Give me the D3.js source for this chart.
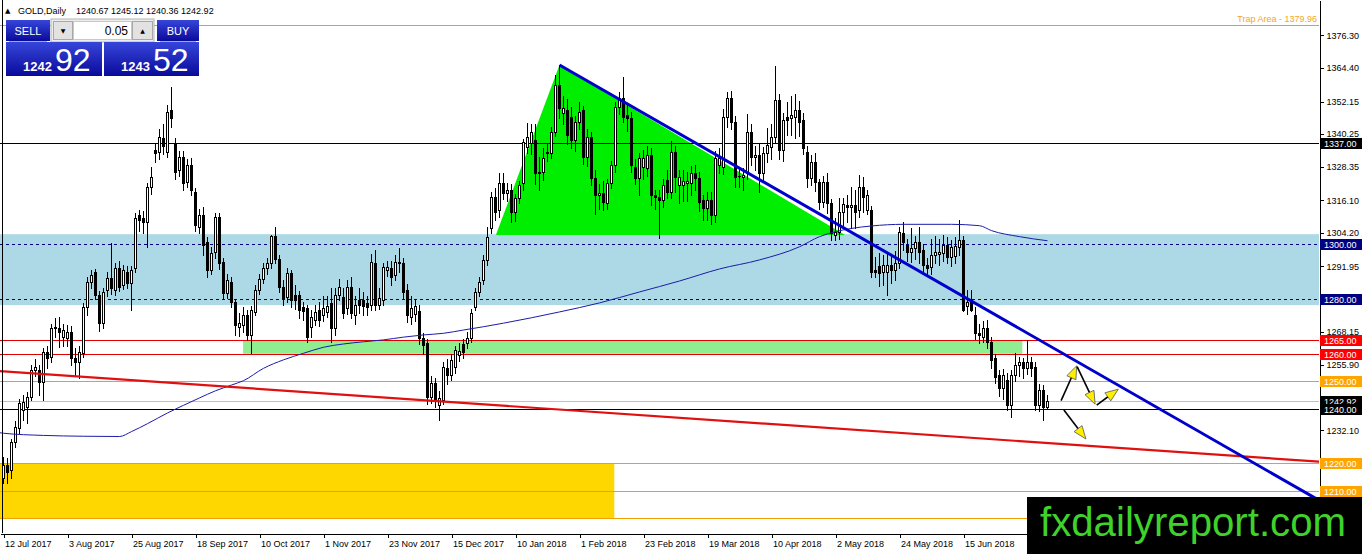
<!DOCTYPE html>
<html>
<head>
<meta charset="utf-8">
<script src="https://cdn.jsdelivr.net/npm/d3@7"></script>
<style>
  body { margin: 0; background: #fff; }
  svg { display: block; font-family: "Liberation Sans", Arial, sans-serif; }
</style>
</head>
<body>
<svg id="chart" width="1362" height="554"></svg>
<script>
// ---- data (GOLD, Daily) ----
const labelBars = [0, 16, 32, 48, 64, 80, 96, 112, 128, 144, 160, 176, 192, 208, 224, 240];
const dateLabels = ["12 Jul 2017", "3 Aug 2017", "25 Aug 2017", "18 Sep 2017", "10 Oct 2017", "1 Nov 2017",
  "23 Nov 2017", "15 Dec 2017", "10 Jan 2018", "1 Feb 2018", "23 Feb 2018", "19 Mar 2018",
  "10 Apr 2018", "2 May 2018", "24 May 2018", "15 Jun 2018"];

const opens = [
  1214.8,1219.4,1217.6,1227.8,1233.0,1239.5,1240.6,1244.2,1254.1,1254.1,1249.7,1260.7,1258.9,1269.8,1269.5,1266.0,
  1265.8,1268.0,1258.5,1257.0,1260.3,1277.1,1286.3,1289.9,1281.5,1271.3,1283.3,1287.7,1283.3,1291.4,1285.2,1289.9,
  1285.9,1291.4,1310.7,1309.6,1308.2,1320.9,1334.4,1333.7,1339.0,1333.7,1349.1,1337.0,1327.1,1331.9,1322.8,1329.0,
  1319.1,1306.3,1310.7,1300.8,1290.6,1297.2,1310.0,1293.5,1282.2,1286.3,1278.9,1269.8,1270.5,1274.2,1266.9,1275.3,
  1283.3,1287.3,1291.4,1293.2,1303.0,1294.6,1284.4,1280.8,1289.5,1281.5,1281.5,1277.1,1276.8,1269.8,1272.4,1276.1,
  1274.2,1275.3,1278.6,1269.5,1281.5,1280.8,1276.8,1284.4,1274.2,1279.7,1279.7,1278.6,1277.9,1293.2,1277.9,1279.7,
  1290.6,1291.4,1288.8,1293.5,1293.2,1283.3,1273.5,1274.5,1275.7,1265.8,1264.0,1244.2,1249.4,1241.3,1243.2,1254.8,
  1252.3,1255.2,1259.6,1263.5,1264.0,1265.8,1277.1,1282.6,1287.0,1294.3,1306.0,1317.3,1312.5,1322.4,1318.7,1319.8,
  1311.8,1316.9,1322.4,1335.5,1337.0,1338.1,1326.4,1326.4,1333.7,1333.4,1341.0,1358.2,1348.0,1349.1,1346.5,1338.1,
  1344.7,1349.1,1331.9,1339.2,1324.2,1318.0,1318.7,1315.1,1322.4,1329.0,1350.1,1353.4,1347.2,1346.1,1328.2,1324.2,
  1328.2,1327.8,1332.6,1318.0,1317.3,1316.2,1323.5,1319.1,1333.7,1321.7,1321.7,1322.4,1322.4,1326.1,1324.2,1316.2,
  1313.3,1316.2,1310.7,1329.0,1328.2,1346.5,1353.4,1344.7,1325.0,1324.6,1326.1,1341.0,1331.9,1332.6,1326.1,1333.4,
  1335.5,1339.2,1352.7,1334.4,1346.5,1346.1,1346.5,1349.1,1345.4,1333.7,1324.2,1330.1,1322.8,1315.5,1322.8,1315.1,
  1303.4,1304.5,1311.8,1314.4,1313.6,1314.4,1312.5,1320.9,1312.5,1312.5,1290.5,1292.2,1289.9,1289.9,1292.4,1290.6,
  1293.2,1304.1,1299.8,1297.2,1298.7,1300.8,1297.9,1292.4,1291.7,1296.1,1296.5,1296.8,1299.8,1295.4,1295.8,1299.0,
  1301.6,1277.5,1279.7,1274.2,1267.6,1266.2,1269.5,1264.3,1258.5,1252.3,1247.5,1250.5,1241.3,1252.3,1255.9,1257.0,
  1254.8,1257.0,1255.2,1241.3,1246.8,1240.67
];
const highs = [
  1222.5,1222.0,1229.0,1235.5,1243.5,1245.0,1246.0,1256.0,1258.0,1256.0,1262.0,1263.0,1271.0,1273.0,1273.5,1271.0,
  1270.5,1270.0,1262.0,1263.0,1278.5,1288.0,1290.5,1291.0,1283.0,1284.0,1290.0,1300.5,1293.0,1294.0,1292.5,1292.0,
  1292.0,1311.5,1312.5,1312.0,1322.5,1328.2,1336.5,1342.0,1344.0,1351.0,1357.5,1339.0,1334.0,1334.0,1331.0,1331.5,
  1320.5,1313.0,1313.5,1302.5,1299.0,1311.5,1311.5,1295.0,1289.0,1288.0,1280.0,1275.0,1277.0,1276.0,1277.5,1285.0,
  1289.0,1293.0,1295.0,1303.5,1306.5,1296.0,1287.0,1291.5,1290.5,1285.0,1283.0,1279.0,1278.0,1276.0,1278.0,1279.0,
  1281.0,1281.0,1284.0,1284.0,1287.5,1284.0,1287.0,1288.0,1281.0,1284.0,1282.5,1281.0,1296.5,1298.0,1284.0,1293.0,
  1294.0,1294.0,1296.0,1298.7,1295.0,1285.5,1281.0,1280.0,1278.0,1267.5,1265.5,1252.0,1251.0,1246.5,1257.0,1258.0,
  1260.0,1263.0,1264.0,1265.5,1268.0,1276.5,1284.0,1288.0,1296.0,1306.2,1319.0,1320.5,1326.0,1326.0,1322.5,1322.0,
  1318.5,1323.0,1338.5,1344.3,1344.0,1344.0,1332.0,1335.0,1337.0,1343.0,1362.0,1365.5,1354.0,1353.0,1350.0,1347.0,
  1352.0,1350.5,1342.0,1341.0,1327.0,1322.0,1323.0,1324.0,1330.5,1352.0,1355.5,1361.0,1351.0,1348.5,1331.0,1333.5,
  1334.5,1336.0,1335.0,1320.0,1320.0,1324.0,1327.0,1337.7,1336.0,1327.0,1327.0,1326.5,1328.5,1329.0,1326.5,1318.0,
  1319.0,1319.0,1334.0,1335.0,1349.5,1355.7,1356.0,1347.0,1327.5,1328.0,1347.5,1344.0,1336.0,1337.0,1335.5,1342.5,
  1344.0,1365.0,1355.0,1348.0,1352.0,1354.0,1355.0,1352.5,1348.0,1336.0,1332.5,1333.5,1324.0,1325.0,1326.0,1316.5,
  1309.5,1317.0,1317.0,1318.0,1320.9,1320.0,1325.3,1324.5,1320.0,1314.0,1295.4,1297.0,1296.0,1297.0,1296.5,1297.5,
  1306.5,1308.0,1302.0,1306.0,1303.0,1306.4,1300.0,1295.0,1302.0,1303.0,1302.0,1303.5,1302.5,1301.5,1302.5,1309.0,
  1303.0,1283.3,1283.3,1277.0,1271.0,1272.0,1272.5,1266.0,1260.0,1254.0,1254.5,1253.0,1254.0,1260.3,1259.0,1258.5,
  1265.1,1259.0,1257.0,1249.0,1248.5,1245.12
];
const lows = [
  1213.0,1213.0,1214.7,1226.0,1231.0,1236.0,1234.8,1243.0,1252.0,1245.0,1243.2,1255.0,1257.0,1266.0,1262.5,1263.0,
  1263.0,1256.0,1252.0,1251.2,1259.0,1274.0,1284.0,1280.0,1268.5,1269.5,1281.0,1282.0,1281.5,1283.0,1283.5,1284.0,
  1276.1,1290.0,1305.0,1304.0,1299.0,1318.5,1330.0,1331.0,1333.0,1332.0,1343.0,1324.0,1325.0,1320.0,1321.0,1318.0,
  1305.0,1304.0,1296.0,1288.0,1289.0,1295.0,1291.0,1280.0,1280.5,1277.0,1267.0,1266.5,1268.0,1265.0,1260.3,1274.0,
  1282.0,1286.0,1289.0,1291.5,1293.0,1282.5,1278.0,1279.0,1277.0,1276.5,1273.0,1272.5,1264.5,1266.0,1270.5,1270.0,
  1272.0,1273.5,1264.5,1267.0,1279.5,1273.0,1274.5,1273.0,1271.0,1275.0,1274.0,1274.0,1276.0,1276.0,1276.5,1278.0,
  1288.5,1285.0,1287.0,1290.0,1280.0,1271.5,1271.0,1272.0,1263.5,1260.0,1241.5,1242.0,1240.5,1235.8,1241.5,1249.0,
  1250.5,1253.0,1257.5,1258.5,1262.0,1264.5,1276.0,1281.0,1285.5,1292.5,1304.0,1309.0,1310.0,1316.5,1316.0,1308.0,
  1308.5,1315.0,1320.0,1333.5,1333.0,1322.0,1320.0,1323.5,1330.5,1331.5,1339.5,1346.0,1344.0,1336.5,1335.0,1334.0,
  1342.0,1329.5,1328.5,1321.5,1311.0,1313.0,1312.5,1313.0,1320.5,1326.5,1347.5,1344.5,1341.5,1326.5,1322.0,1318.0,
  1324.0,1325.0,1314.5,1313.0,1302.3,1313.5,1317.0,1317.0,1319.0,1315.0,1316.0,1316.0,1318.0,1320.0,1312.0,1309.0,
  1309.0,1307.5,1308.0,1326.0,1325.5,1343.0,1342.0,1321.0,1320.9,1320.0,1324.0,1329.0,1327.0,1319.0,1323.0,1330.0,
  1331.0,1337.5,1331.0,1330.5,1340.0,1340.0,1339.0,1339.5,1333.0,1321.0,1321.5,1319.5,1313.0,1313.5,1311.5,1301.7,
  1301.5,1302.0,1307.0,1308.0,1306.0,1306.0,1310.0,1311.9,1311.0,1288.0,1288.1,1284.7,1285.0,1281.5,1286.0,1287.0,
  1291.5,1298.0,1294.0,1293.5,1294.5,1293.0,1289.5,1288.5,1289.0,1293.0,1292.5,1294.0,1293.0,1292.0,1293.0,1296.0,
  1275.5,1274.5,1275.5,1265.5,1264.0,1264.5,1262.0,1254.8,1249.5,1244.5,1243.5,1239.5,1236.9,1250.0,1252.0,1251.0,
  1252.5,1252.0,1239.5,1239.0,1235.8,1240.36
];
const closes = [
  1219.4,1216.9,1227.8,1233.3,1242.1,1242.5,1244.2,1254.1,1255.2,1249.7,1260.7,1258.5,1269.5,1269.5,1268.0,1268.7,
  1268.0,1258.5,1257.0,1260.7,1277.1,1286.3,1288.8,1281.5,1271.3,1282.6,1287.7,1284.0,1291.4,1284.4,1290.6,1285.9,
  1290.6,1309.6,1308.9,1308.2,1320.9,1324.6,1333.4,1339.2,1336.0,1348.3,1346.1,1326.4,1331.9,1322.4,1329.0,1319.8,
  1307.1,1310.7,1299.8,1290.6,1296.8,1310.0,1293.2,1282.2,1287.0,1278.9,1270.5,1271.3,1274.2,1266.9,1276.1,1283.3,
  1287.3,1291.4,1293.2,1303.0,1294.6,1284.4,1280.4,1289.5,1279.7,1279.7,1276.1,1275.7,1266.2,1273.5,1275.3,1272.4,
  1276.8,1277.5,1269.5,1281.5,1284.4,1275.0,1284.4,1275.0,1277.9,1277.9,1277.5,1277.1,1293.5,1277.9,1280.4,1291.7,
  1291.7,1288.1,1293.5,1293.2,1282.6,1274.2,1276.8,1277.5,1265.8,1263.2,1244.2,1249.4,1243.2,1243.9,1255.2,1252.3,
  1257.8,1261.4,1261.0,1260.7,1265.8,1275.0,1282.6,1286.3,1294.3,1302.6,1317.3,1311.8,1322.4,1318.7,1319.8,1311.8,
  1316.9,1321.7,1337.4,1339.2,1341.0,1326.1,1326.1,1331.5,1333.4,1341.0,1358.2,1349.8,1349.8,1339.9,1338.1,1344.7,
  1348.3,1331.9,1339.2,1324.2,1318.0,1318.7,1315.5,1322.4,1329.0,1350.1,1353.4,1346.5,1346.1,1329.0,1324.2,1331.5,
  1331.5,1332.6,1318.0,1317.3,1316.2,1321.7,1319.1,1333.7,1324.6,1324.6,1323.2,1323.2,1326.1,1324.2,1315.5,1313.3,
  1316.2,1310.7,1331.5,1331.5,1346.5,1353.4,1344.7,1324.6,1324.9,1325.3,1341.0,1331.9,1332.6,1326.1,1333.4,1336.3,
  1339.2,1352.7,1334.4,1345.4,1345.4,1347.2,1349.1,1344.7,1335.2,1324.2,1330.1,1322.8,1315.5,1322.8,1315.1,1304.1,
  1304.5,1311.8,1314.8,1313.6,1314.4,1311.8,1320.9,1317.3,1318.0,1289.9,1289.9,1289.5,1292.4,1292.4,1290.6,1293.2,
  1304.5,1300.8,1297.2,1298.5,1300.8,1297.2,1292.4,1291.4,1296.1,1297.2,1297.2,1299.8,1295.4,1299.0,1299.5,1301.6,
  1276.1,1279.0,1276.1,1267.6,1266.9,1269.5,1264.3,1257.8,1251.5,1247.5,1252.3,1241.3,1252.3,1255.9,1257.0,1254.8,
  1257.0,1254.8,1241.3,1246.8,1240.6,1242.92
];

// 200 day moving average, read at a few bars
const maBars = [-1, 0, 10, 20, 29, 32, 36, 41, 45, 49, 53, 57, 60, 65, 70, 75, 80, 85, 90, 95, 100, 105, 110, 115, 120,
  125, 139, 149, 159, 169, 179, 189, 199, 204, 208, 212, 217, 225, 237, 244, 247, 254, 261];
const maValues = [1231.2, 1231.0, 1230.2, 1229.9, 1229.8, 1231.6, 1234.5, 1238.4, 1241.2, 1243.9, 1246.5, 1248.6, 1250.2,
  1254.7, 1257.8, 1260.2, 1262.4, 1263.6, 1264.4, 1265.1, 1266.1, 1266.9, 1267.5, 1268.7, 1269.9, 1271.2, 1275.3,
  1278.6, 1282.6, 1286.6, 1291.0, 1294.3, 1299.1, 1302.8, 1304.6, 1305.8, 1306.7, 1307.3, 1307.3, 1306.8, 1305.0,
  1302.8, 1301.3];

// drawn objects (bar index / price)
const priceTicks = [1376.30, 1364.40, 1352.15, 1340.25, 1328.35, 1316.10, 1304.20, 1291.95, 1268.15,
  1255.90, 1232.10];
const blackLevels = [1337, 1240];
const navyLevels = [1300, 1280];
const redLevels = [1265, 1260];
const orangeLevels = [1250, 1220, 1210, 1200];
const trapLevel = 1379.96;
const askPrice = 1243.52;
const blueZone = [1303.7, 1277.8];
const greenZoneBars = [59.9, 254.7];
const greenZonePrices = [1265, 1260];
const yellowZoneEndBar = 152.7;
const yellowZonePrices = [1220, 1200];
const triangleBars = [123.1, 139, 210.4];
const trianglePrices = [1303.4, 1365.5, 1303.4];
const redTrendBars = [0, 320];
const redTrendPrices = [1253.6, 1221.5];
const blueTrendBars = [139, 326.6];
const blueTrendPrices = [1365.5, 1208.4];
const arrowFrom = [[264.4, 1242.9], [268.4, 1255.3], [273.3, 1241.3], [265.1, 1239.5]];
const arrowTo = [[268.3, 1255.6], [272.9, 1241.6], [278.7, 1247.1], [270.6, 1228.9]];

// ---- layout ----
const plotRight = 1319, plotBottom = 533;
const svg = d3.select("#chart");

const x = d3.scaleLinear().domain([-0.875, 328.875]).range([0, plotRight]);
const y = d3.scaleLinear().domain([1389.23, 1194.56]).range([0, plotBottom]);
const crisp = v => Math.round(v) + 0.5;

const defs = svg.append("defs");
defs.append("clipPath").attr("id", "plotClip")
  .append("rect").attr("width", plotRight).attr("height", plotBottom);
const grad = defs.append("linearGradient").attr("id", "blueBtn")
  .attr("x1", 0).attr("y1", 0).attr("x2", 0).attr("y2", 1);
grad.append("stop").attr("offset", "0%").attr("stop-color", "#3646da");
grad.append("stop").attr("offset", "100%").attr("stop-color", "#0a0a9a");

const plot = svg.append("g").attr("clip-path", "url(#plotClip)");

//Background zones
plot.append("rect")
  .attr("x", 0).attr("width", plotRight)
  .attr("y", y(blueZone[0])).attr("height", y(blueZone[1]) - y(blueZone[0]))
  .attr("fill", "#add8e6");

plot.append("rect")
  .attr("x", 0).attr("width", x(yellowZoneEndBar))
  .attr("y", y(yellowZonePrices[0])).attr("height", y(yellowZonePrices[1]) - y(yellowZonePrices[0]))
  .attr("fill", "#ffd700");

plot.append("rect")
  .attr("x", x(greenZoneBars[0])).attr("width", x(greenZoneBars[1]) - x(greenZoneBars[0]))
  .attr("y", y(greenZonePrices[0])).attr("height", y(greenZonePrices[1]) - y(greenZonePrices[0]))
  .attr("fill", "#90ee90");

const triangleLine = d3.line().x(i => x(triangleBars[i])).y(i => y(trianglePrices[i]));
plot.append("path")
  .attr("d", triangleLine(d3.range(triangleBars.length)) + "Z")
  .attr("fill", "#00ee00");

//Horizontal levels
function hLines(levels, color, dash) {
  plot.append("g").selectAll("line").data(levels).join("line")
    .attr("x1", 0).attr("x2", plotRight)
    .attr("y1", d => crisp(y(d))).attr("y2", d => crisp(y(d)))
    .attr("stroke", color).attr("stroke-width", 1)
    .attr("stroke-dasharray", dash || null)
    .attr("shape-rendering", "crispEdges");
}
hLines(navyLevels, "#000080", "3,3");
hLines(redLevels, "#e00000");
hLines(orangeLevels, "#f0a000");
hLines([trapLevel], "#f0a000");
hLines([closes[closes.length - 1]], "#c0c0c0");
hLines(blackLevels, "#000000");

//Candles
const bars = d3.range(closes.length);
const candles = plot.append("g").attr("shape-rendering", "crispEdges");
candles.selectAll("line").data(bars).join("line")
  .attr("x1", i => x(i)).attr("x2", i => x(i))
  .attr("y1", i => Math.round(y(highs[i]))).attr("y2", i => Math.round(y(lows[i])) + 1)
  .attr("stroke", "#000");

const bodyTop = i => Math.round(y(Math.max(opens[i], closes[i])));
const bodyH = i => Math.max(1, Math.round(y(Math.min(opens[i], closes[i]))) - bodyTop(i) + 1);
candles.selectAll("rect.body").data(bars).join("rect")
  .attr("class", "body")
  .attr("x", i => x(i) - 1.5).attr("width", 3)
  .attr("y", bodyTop).attr("height", bodyH)
  .attr("fill", "#000");
//Bull candles are hollow
candles.selectAll("rect.hollow").data(bars.filter(i => closes[i] > opens[i] && bodyH(i) > 2)).join("rect")
  .attr("class", "hollow")
  .attr("x", i => x(i) - 0.5).attr("width", 1)
  .attr("y", i => bodyTop(i) + 1).attr("height", i => bodyH(i) - 2)
  .attr("fill", "#fff");

//Moving average
const maLine = d3.line().x(i => x(maBars[i])).y(i => y(maValues[i])).curve(d3.curveMonotoneX);
plot.append("path")
  .attr("d", maLine(d3.range(maBars.length)))
  .attr("fill", "none").attr("stroke", "#1c1ca8").attr("stroke-width", 1);

//Trend lines
const redAt = d3.scaleLinear().domain(redTrendBars).range(redTrendPrices);
plot.append("line")
  .attr("x1", x(-1)).attr("y1", y(redAt(-1)))
  .attr("x2", x(330)).attr("y2", y(redAt(330)))
  .attr("stroke", "#e01010").attr("stroke-width", 2.2);

const blueAt = d3.scaleLinear().domain(blueTrendBars).range(blueTrendPrices);
plot.append("line")
  .attr("x1", x(blueTrendBars[0])).attr("y1", y(blueTrendPrices[0]))
  .attr("x2", x(345)).attr("y2", y(blueAt(345)))
  .attr("stroke", "#0000cc").attr("stroke-width", 3);

//Arrows
const arrows = plot.append("g");
arrowFrom.forEach((from, k) => {
  const sx = x(from[0]), sy = y(from[1]);
  const tx = x(arrowTo[k][0]), ty = y(arrowTo[k][1]);
  const len = Math.hypot(tx - sx, ty - sy);
  const ux = (tx - sx) / len, uy = (ty - sy) / len;
  const L = 13, w = 5;
  arrows.append("line")
    .attr("x1", sx).attr("y1", sy).attr("x2", tx - ux * 4).attr("y2", ty - uy * 4)
    .attr("stroke", "#000").attr("stroke-width", 1.6);
  const pts = [[tx, ty], [tx - ux * L - uy * w, ty - uy * L + ux * w], [tx - ux * L + uy * w, ty - uy * L - ux * w]];
  arrows.append("polygon")
    .attr("points", pts.map(p => p.join(",")).join(" "))
    .attr("fill", "#ffee00").attr("stroke", "#555").attr("stroke-width", 0.8);
});

//Trap area text
svg.append("text")
  .attr("x", plotRight - 2).attr("y", y(trapLevel) - 3)
  .attr("text-anchor", "end").attr("font-size", 9).attr("fill", "#f5a623")
  .text("Trap Area - " + trapLevel.toFixed(2));

//Frame
svg.append("line").attr("x1", 2.5).attr("x2", 2.5).attr("y1", 0).attr("y2", plotBottom)
  .attr("stroke", "#000").attr("shape-rendering", "crispEdges");

//Axes
const yAxis = svg.append("g")
  .attr("transform", `translate(${plotRight + 0.5},0)`)
  .call(d3.axisRight(y).tickValues(priceTicks).tickFormat(d3.format(".2f")).tickSize(4).tickSizeOuter(0));
const xAxis = svg.append("g")
  .attr("transform", `translate(0,${plotBottom + 0.5})`)
  .call(d3.axisBottom(x).tickValues(labelBars).tickFormat((d, i) => dateLabels[i]).tickSize(4).tickSizeOuter(0));
[yAxis, xAxis].forEach(g => {
  g.attr("font-family", null).attr("font-size", null);
  g.selectAll("text").attr("font-size", 9).attr("fill", "#000");
  g.selectAll("line, path").attr("stroke", "#000").attr("shape-rendering", "crispEdges");
});
xAxis.selectAll("text").attr("text-anchor", "start").attr("x", 1);

//Price label boxes on the right axis
function priceBox(p, fill) {
  const g = svg.append("g");
  g.append("rect")
    .attr("x", plotRight + 1).attr("y", Math.round(y(p)) - 5).attr("width", 42).attr("height", 11)
    .attr("fill", fill);
  g.append("text")
    .attr("x", plotRight + 5).attr("y", Math.round(y(p)) + 4)
    .attr("font-size", 9).attr("fill", "#fff")
    .text(p.toFixed(2));
}
priceBox(blackLevels[0], "#000");
navyLevels.forEach(p => priceBox(p, "#000080"));
redLevels.forEach(p => priceBox(p, "#ff0000"));
priceBox(orangeLevels[0], "#ffa500");
priceBox(closes[closes.length - 1], "#000");
priceBox(blackLevels[1], "#000");
// the 1200 label sits under the watermark, so only 1220 and 1210 get boxes
orangeLevels.slice(1, 3).forEach(p => priceBox(p, "#ffa500"));

//Watermark
svg.append("rect").attr("x", 1027).attr("y", 497).attr("width", 335).attr("height", 57).attr("fill", "#000");
svg.append("text")
  .attr("x", 1040).attr("y", 536)
  .attr("font-size", 40).attr("fill", "#3fd22b")
  .attr("textLength", 306).attr("lengthAdjust", "spacingAndGlyphs")
  .text("fxdailyreport.com");

//Header
const last = closes.length - 1;
svg.append("text").attr("x", 5).attr("y", 13).attr("font-size", 7)
  .attr("font-family", "DejaVu Sans").text("\u25B2");
svg.append("text").attr("x", 18).attr("y", 14).attr("font-size", 9).text("GOLD,Daily");
svg.append("text").attr("x", 76).attr("y", 14).attr("font-size", 9)
  .text([opens[last], highs[last], lows[last], closes[last]].map(v => v.toFixed(2)).join(" "));

//One-click trading panel
const panel = svg.append("g");
panel.append("rect").attr("x", 51).attr("y", 19).attr("width", 103).attr("height", 23)
  .attr("fill", "#ececec").attr("stroke", "#b4b4b4");
panel.append("rect").attr("x", 6).attr("y", 20).attr("width", 44).attr("height", 21).attr("fill", "url(#blueBtn)");
panel.append("rect").attr("x", 157).attr("y", 20).attr("width", 42).attr("height", 21).attr("fill", "url(#blueBtn)");
panel.append("line").attr("x1", 9).attr("x2", 47).attr("y1", 41.5).attr("y2", 41.5).attr("stroke", "#9aa4ff");
panel.append("line").attr("x1", 160).attr("x2", 196).attr("y1", 41.5).attr("y2", 41.5).attr("stroke", "#9aa4ff");
panel.append("text").attr("x", 28).attr("y", 35).attr("text-anchor", "middle")
  .attr("font-size", 11).attr("fill", "#fff").text("SELL");
panel.append("text").attr("x", 178).attr("y", 35).attr("text-anchor", "middle")
  .attr("font-size", 11).attr("fill", "#fff").text("BUY");
panel.append("rect").attr("x", 53.5).attr("y", 21.5).attr("width", 19).attr("height", 18)
  .attr("fill", "#e2e2e2").attr("stroke", "#a8a8a8");
panel.append("rect").attr("x", 73.5).attr("y", 21.5).attr("width", 58).attr("height", 18)
  .attr("fill", "#fff").attr("stroke", "#c8c8c8");
panel.append("rect").attr("x", 132.5).attr("y", 21.5).attr("width", 20).attr("height", 18)
  .attr("fill", "#e2e2e2").attr("stroke", "#a8a8a8");
panel.append("text").attr("x", 63).attr("y", 33).attr("text-anchor", "middle")
  .attr("font-size", 6).attr("font-family", "DejaVu Sans").text("\u25BC");
panel.append("text").attr("x", 142.5).attr("y", 33).attr("text-anchor", "middle")
  .attr("font-size", 6).attr("font-family", "DejaVu Sans").text("\u25B2");
panel.append("text").attr("x", 128).attr("y", 35).attr("text-anchor", "end")
  .attr("font-size", 12).text("0.05");

function pricePanel(x0, w, price) {
  const s = price.toFixed(2).split(".");
  panel.append("rect").attr("x", x0).attr("y", 42).attr("width", w).attr("height", 34).attr("fill", "url(#blueBtn)");
  panel.append("text").attr("x", x0 + 17).attr("y", 71).attr("font-size", 13).attr("font-weight", "bold")
    .attr("fill", "#fff").text(s[0]);
  panel.append("text").attr("x", x0 + 49).attr("y", 71).attr("font-size", 32)
    .attr("fill", "#fff").text(s[1]);
}
pricePanel(6, 96, closes[last]);
pricePanel(104, 95, askPrice);
</script>
</body>
</html>
